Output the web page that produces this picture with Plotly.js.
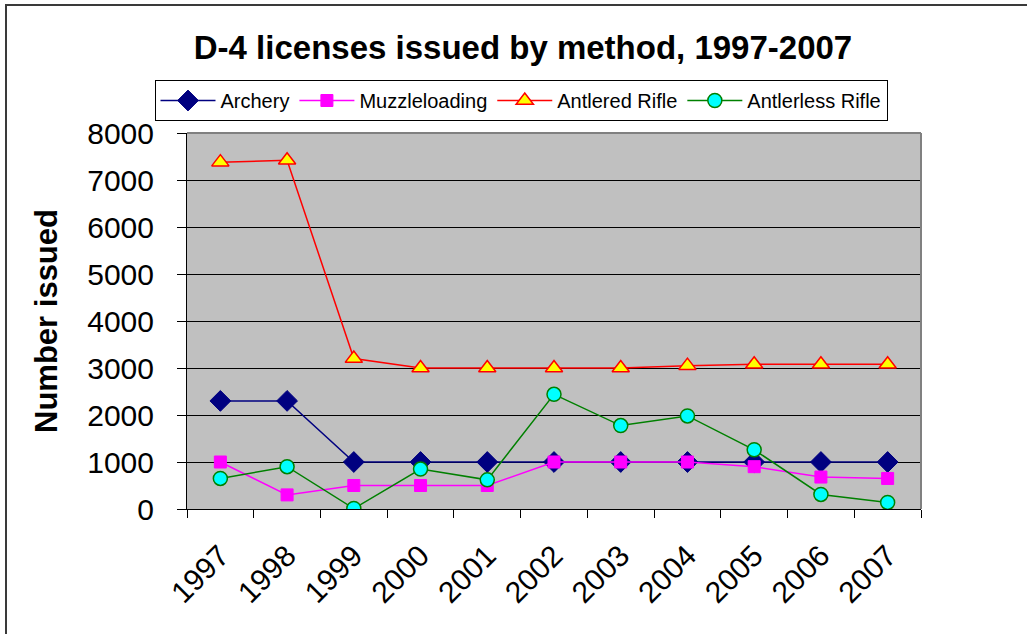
<!DOCTYPE html>
<html>
<head>
<meta charset="utf-8">
<script src="https://cdn.plot.ly/plotly-3.0.1.min.js"></script>
<style>
  html, body { margin: 0; padding: 0; background: #fff; overflow: hidden; }
  #chart { width: 1027px; height: 634px; }
  #frame { position: absolute; left: 5px; top: 4px; width: 1100px; height: 700px;
           border: 2px solid #3a3a3a; pointer-events: none; }
</style>
</head>
<body>
<div id="chart"></div>
<div id="frame"></div>
<script>
const years = ['1997','1998','1999','2000','2001','2002','2003','2004','2005','2006','2007'];
const archery = [2300, 2300, 1000, 1000, 1000, 1000, 1000, 1000, 1000, 1000, 1000];
const muzzleloading = [1000, 300, 500, 500, 500, 1000, 1000, 1000, 900, 680, 650];
const antleredRifle = [7380, 7420, 3200, 3000, 3000, 3000, 3000, 3050, 3080, 3080, 3080];
const antlerlessRifle = [650, 900, 10, 850, 620, 2440, 1775, 1980, 1260, 310, 140];

const font = 'Liberation Sans, Arial, sans-serif';

const traces = [
  {name: 'Archery', x: years, y: archery, type: 'scatter', mode: 'lines+markers',
   line: {color: '#000080', width: 1.5},
   marker: {symbol: 'diamond', size: 16, color: '#000080', line: {color: '#000080', width: 1}}},
  {name: 'Muzzleloading', x: years, y: muzzleloading, type: 'scatter', mode: 'lines+markers',
   line: {color: '#FF00FF', width: 1.5},
   marker: {symbol: 'square', size: 12, color: '#FF00FF', line: {color: '#FF00FF', width: 1}}},
  {name: 'Antlered Rifle', x: years, y: antleredRifle, type: 'scatter', mode: 'lines+markers',
   line: {color: '#FF0000', width: 1.5},
   marker: {symbol: 'triangle-up', size: 15, color: '#FFFF00', line: {color: '#FF0000', width: 1.5}}},
  {name: 'Antlerless Rifle', x: years, y: antlerlessRifle, type: 'scatter', mode: 'lines+markers',
   line: {color: '#008000', width: 1.5},
   marker: {symbol: 'circle', size: 14, color: '#00FFFF', line: {color: '#008000', width: 1.5}}}
];

const layout = {
  width: 1027, height: 634,
  margin: {l: 187, r: 106, t: 133, b: 125, pad: 0},
  paper_bgcolor: '#FFFFFF',
  plot_bgcolor: '#C0C0C0',
  font: {family: font, color: '#000'},
  title: {text: '<b>D-4 licenses issued by method, 1997-2007</b>',
          font: {family: font, size: 33, color: '#000'},
          xref: 'container', x: 523/1027, xanchor: 'center',
          yref: 'container', y: 1 - 47/634, yanchor: 'middle'},
  showlegend: true,
  legend: {orientation: 'h', xref: 'container', yref: 'container',
           x: 521/1027, xanchor: 'center', y: 1 - 80/634, yanchor: 'top',
           bgcolor: '#FFFFFF', bordercolor: '#000', borderwidth: 1,
           font: {family: font, size: 20, color: '#000'},
           itemwidth: 55, tracegroupgap: 0, traceorder: 'normal'},
  xaxis: {type: 'category', range: [-0.5, 10.5], tickson: 'boundaries',
          ticks: 'outside', ticklen: 8, tickcolor: '#000', tickwidth: 1,
          showline: true, linecolor: '#000', linewidth: 1,
          showgrid: false, tickangle: -45, ticklabelstandoff: 16,
          tickfont: {family: font, size: 30, color: '#000'}, fixedrange: true},
  yaxis: {range: [0, 8000], tick0: 0, dtick: 1000, ticks: 'outside', ticklen: 9,
          tickcolor: '#000', tickwidth: 1, showline: true, linecolor: '#000', linewidth: 1,
          showgrid: true, gridcolor: '#000', gridwidth: 1, zeroline: false,
          ticklabelstandoff: 17,
          tickfont: {family: font, size: 30, color: '#000'},
          title: {text: '<b>Number issued</b>', font: {family: font, size: 31, color: '#000'}, standoff: 20},
          fixedrange: true},
  shapes: [
    {type: 'line', xref: 'paper', yref: 'paper', x0: 1, x1: 1, y0: 0, y1: 1,
     line: {color: '#808080', width: 2}, layer: 'above'},
    {type: 'line', xref: 'paper', yref: 'paper', x0: 0, x1: 1, y0: 1, y1: 1,
     line: {color: '#808080', width: 2}, layer: 'above'}
  ]
};

Plotly.newPlot('chart', traces, layout, {displayModeBar: false, staticPlot: true});
</script>
</body>
</html>
